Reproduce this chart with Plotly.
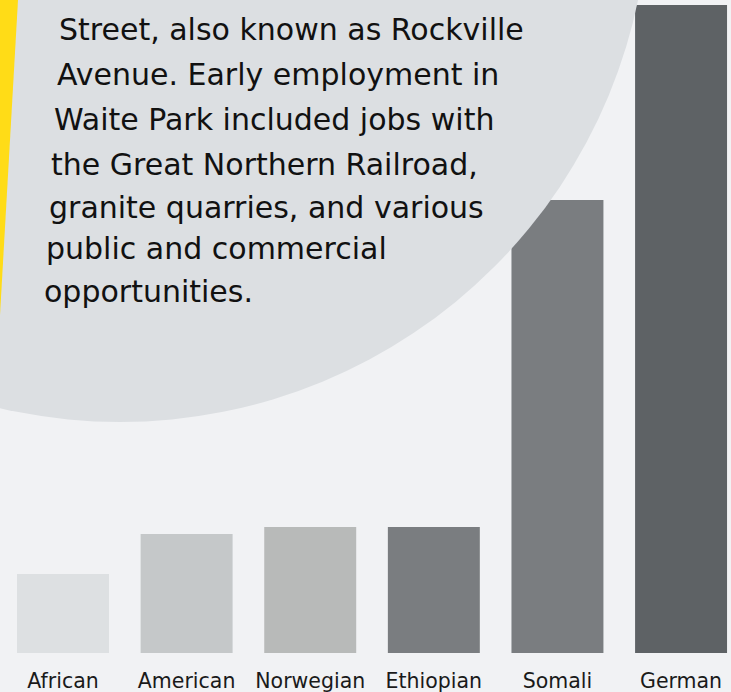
import plotly.graph_objects as go

categories = ["African", "American", "Norwegian", "Ethiopian", "Somali", "German"]
values = [79, 119, 126, 126, 453, 648]
bar_colors = ["#dde0e2", "#c5c8c9", "#b8bab9", "#7a7d80", "#7a7d80", "#5e6265"]

text_lines = [
    "Street, also known as Rockville",
    "Avenue. Early employment in",
    "Waite Park included jobs with",
    "the Great Northern Railroad,",
    "granite quarries, and various",
    "public and commercial",
    "opportunities.",
]
line_x = [57, 55, 52, 49, 47, 44, 42]
line_base = [40, 85, 130, 175, 218, 259, 302]

W, H = 731, 692
PB = 653  # plot bottom in pixels
FONT = "DejaVu Sans"


def py(p):
    return 1 - p / PB


fig = go.Figure()
fig.add_trace(go.Bar(
    x=categories, y=values, marker=dict(color=bar_colors, line=dict(width=0)),
    width=0.744, hoverinfo="skip",
))

shapes = [
    dict(type="circle", xref="paper", yref="paper",
         x0=(120 - 529) / W, x1=(120 + 529) / W,
         y0=py(-107 + 529), y1=py(-107 - 529),
         fillcolor="#dcdfe2", line=dict(width=0), layer="above"),
    dict(type="path", xref="paper", yref="paper",
         path=f"M 0 1 L {18 / W} 1 L 0 {py(315)} Z",
         fillcolor="#ffdc17", line=dict(width=0), layer="above"),
]

annotations = []
fs = 30
for t, lx, lb in zip(text_lines, line_x, line_base):
    annotations.append(dict(
        text=t, xref="paper", yref="paper", x=lx / W,
        y=py(lb - 0.36 * fs),
        xanchor="left", yanchor="middle", showarrow=False,
        font=dict(family=FONT, size=fs, color="#111111"),
    ))

fig.update_layout(
    width=W, height=H,
    margin=dict(l=0, r=0, t=0, b=H - PB),
    paper_bgcolor="#f1f2f4", plot_bgcolor="#f1f2f4",
    showlegend=False,
    shapes=shapes, annotations=annotations,
    xaxis=dict(range=[-0.5097, 5.404], showgrid=False, zeroline=False,
               showline=False, ticks="", fixedrange=True, ticklabelstandoff=13,
               tickfont=dict(family=FONT, size=20.5, color="#1a1a1a")),
    yaxis=dict(range=[0, 653], visible=False, fixedrange=True),
)

fig.write_html("out.html", config={"displayModeBar": False},
               post_script="document.body.style.margin='0';document.body.style.overflow='hidden';")
